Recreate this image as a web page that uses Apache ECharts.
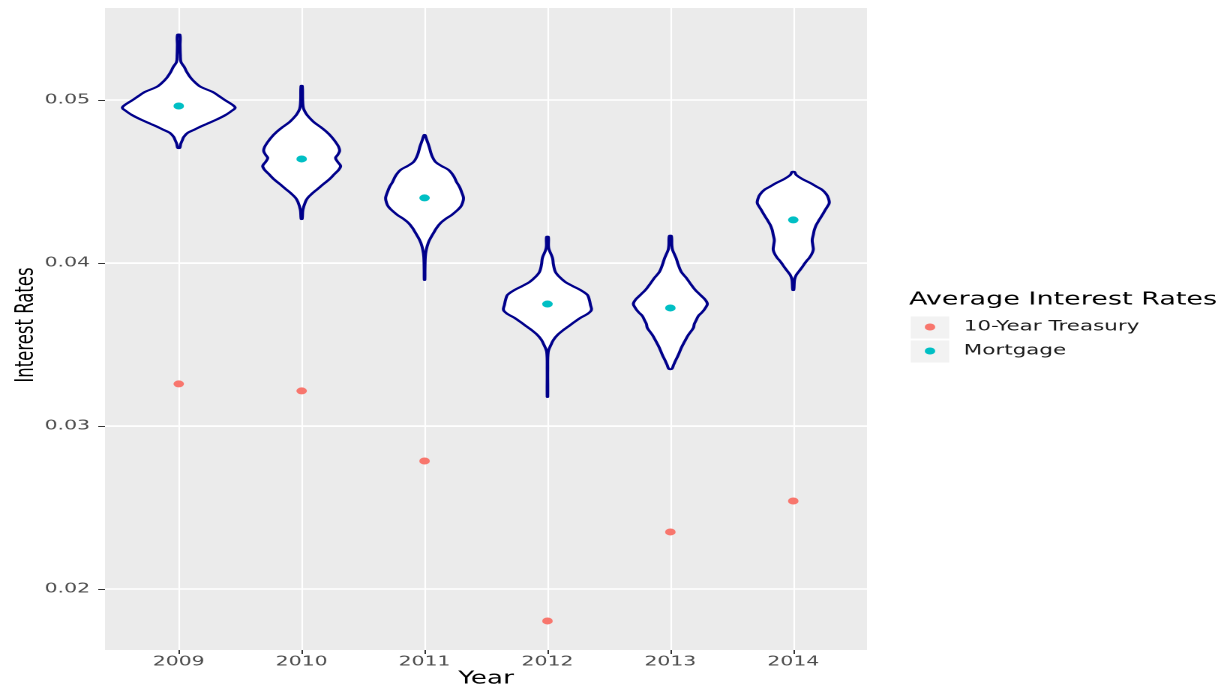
<!DOCTYPE html>
<html><head><meta charset="utf-8">
<script src="https://cdn.jsdelivr.net/npm/echarts@6.0.0/dist/echarts.min.js"></script>
<style>
html,body{margin:0;padding:0;background:#fff;overflow:hidden;width:1227px;height:690px}
#chart{width:818px;height:690px;transform:scaleX(1.5);transform-origin:0 0}
</style>
</head><body><div id="chart"></div><script>
// ---- data ----
const years = ['2009', '2010', '2011', '2012', '2013', '2014'];
const treasury = [0.03258, 0.03215, 0.02785, 0.01804, 0.02350, 0.02540];
const mortgage = [0.04963, 0.04638, 0.04399, 0.03748, 0.03724, 0.04264];
const yTicks = [0.02, 0.03, 0.04, 0.05];
const yMinor = [0.015, 0.025, 0.035, 0.045, 0.055];
// violin outlines: [rate, half-width in category units]
const violin2009 = [[0.05399,0.010],[0.05337,0.011],[0.05276,0.013],[0.05233,0.018],[0.05202,0.045],[0.05172,0.065],[0.05135,0.098],[0.05104,0.138],[0.05080,0.179],[0.05049,0.276],[0.05025,0.325],[0.05000,0.374],[0.04969,0.439],[0.04951,0.459],[0.04933,0.431],[0.04908,0.382],[0.04877,0.301],[0.04853,0.228],[0.04834,0.171],[0.04816,0.122],[0.04798,0.073],[0.04773,0.041],[0.04755,0.030],[0.04730,0.016],[0.04706,0.008]];
const violin2010 = [[0.05086,0.005],[0.05000,0.008],[0.04951,0.014],[0.04920,0.033],[0.04896,0.057],[0.04865,0.098],[0.04834,0.154],[0.04804,0.203],[0.04773,0.244],[0.04742,0.276],[0.04712,0.301],[0.04687,0.309],[0.04663,0.293],[0.04644,0.276],[0.04620,0.293],[0.04595,0.317],[0.04571,0.301],[0.04546,0.268],[0.04515,0.228],[0.04485,0.179],[0.04454,0.130],[0.04423,0.081],[0.04399,0.049],[0.04374,0.030],[0.04325,0.010],[0.04270,0.004]];
const violin2011 = [[0.04785,0.004],[0.04755,0.018],[0.04712,0.038],[0.04663,0.057],[0.04620,0.089],[0.04595,0.138],[0.04571,0.195],[0.04534,0.236],[0.04497,0.260],[0.04466,0.285],[0.04436,0.301],[0.04399,0.317],[0.04368,0.309],[0.04344,0.293],[0.04319,0.260],[0.04294,0.220],[0.04270,0.171],[0.04245,0.130],[0.04215,0.098],[0.04184,0.073],[0.04153,0.049],[0.04123,0.030],[0.04080,0.014],[0.04037,0.006],[0.03957,0.003],[0.03896,0.002]];
const violin2012 = [[0.04160,0.007],[0.04092,0.010],[0.04031,0.041],[0.03988,0.049],[0.03945,0.065],[0.03914,0.098],[0.03883,0.146],[0.03859,0.203],[0.03834,0.268],[0.03804,0.325],[0.03773,0.341],[0.03742,0.350],[0.03712,0.358],[0.03687,0.325],[0.03663,0.268],[0.03638,0.220],[0.03620,0.187],[0.03589,0.130],[0.03558,0.081],[0.03528,0.049],[0.03497,0.028],[0.03454,0.006],[0.03344,0.002],[0.03178,0.002]];
const violin2013 = [[0.04166,0.008],[0.04110,0.012],[0.04080,0.018],[0.04031,0.046],[0.03988,0.065],[0.03945,0.089],[0.03908,0.130],[0.03865,0.171],[0.03834,0.203],[0.03804,0.244],[0.03773,0.285],[0.03748,0.301],[0.03724,0.285],[0.03699,0.260],[0.03675,0.228],[0.03650,0.211],[0.03626,0.195],[0.03601,0.187],[0.03558,0.146],[0.03515,0.114],[0.03479,0.089],[0.03436,0.065],[0.03399,0.041],[0.03374,0.026],[0.03350,0.012]];
const violin2014 = [[0.04558,0.010],[0.04540,0.024],[0.04515,0.073],[0.04491,0.138],[0.04466,0.195],[0.04448,0.236],[0.04423,0.268],[0.04399,0.285],[0.04368,0.293],[0.04344,0.276],[0.04325,0.260],[0.04294,0.236],[0.04264,0.211],[0.04233,0.187],[0.04202,0.171],[0.04172,0.163],[0.04141,0.154],[0.04110,0.159],[0.04080,0.163],[0.04049,0.146],[0.04031,0.130],[0.04006,0.102],[0.03975,0.073],[0.03951,0.049],[0.03926,0.024],[0.03896,0.010],[0.03834,0.004]];
const violins = [violin2009, violin2010, violin2011, violin2012, violin2013, violin2014];

// ---- chart ----
const FONT = 'DejaVu Sans';
const chart = echarts.init(document.getElementById('chart'), null, {devicePixelRatio: 2});
const catX = years.map((y, i) => i + 1);

const gridLines = [];
yMinor.forEach(v => gridLines.push({yAxis: v, lineStyle: {width: 0.8}}));
yTicks.forEach(v => gridLines.push({yAxis: v, lineStyle: {width: 1.6}}));
catX.forEach(v => gridLines.push({xAxis: v, lineStyle: {width: 1.1}}));

chart.setOption({
  animation: false,
  backgroundColor: '#ffffff',
  textStyle: {fontFamily: FONT},
  grid: {left: 70, right: 240, top: 8, bottom: 40, show: true, backgroundColor: '#EBEBEB', borderWidth: 0,
    containLabel: false, outerBoundsMode: 'none'},
  title: {
    text: 'Average Interest Rates', left: 606, top: 291, padding: 0,
    textStyle: {fontFamily: FONT, fontSize: 18, fontWeight: 'normal', color: '#000'}
  },
  legend: {
    orient: 'vertical', left: 616.5, top: 319, padding: 0, itemGap: 8,
    itemWidth: 7, itemHeight: 7, icon: 'circle',
    data: ['10-Year Treasury', 'Mortgage'],
    textStyle: {fontFamily: FONT, fontSize: 14.3, color: '#1A1A1A', lineHeight: 16, padding: [0, 0, 0, 14]}
  },
  graphic: [
    {type: 'rect', z: 0, shape: {x: 606.7, y: 316, width: 26.6, height: 23}, style: {fill: '#F2F2F2', stroke: '#fff', lineWidth: 1}},
    {type: 'rect', z: 0, shape: {x: 606.7, y: 340, width: 26.6, height: 23}, style: {fill: '#F2F2F2', stroke: '#fff', lineWidth: 1}}
  ],
  xAxis: {
    type: 'value', min: 0.4, max: 6.6,
    name: 'Year', nameLocation: 'middle', nameGap: 20, nameMoveOverlap: false,
    nameTextStyle: {fontFamily: FONT, fontSize: 17.5, color: '#000'},
    axisLine: {show: false},
    axisTick: {show: true, length: 4, customValues: catX, lineStyle: {color: '#333333', width: 1}},
    axisLabel: {customValues: catX, margin: 5, fontFamily: FONT, fontSize: 13.6, color: '#4D4D4D',
      formatter: v => years[Math.round(v) - 1] || ''},
    splitLine: {show: false}
  },
  yAxis: {
    type: 'value', min: 0.016258, max: 0.05564,
    name: 'Interest Rates', nameLocation: 'middle', nameGap: 44, nameMoveOverlap: false,
    nameTextStyle: {fontFamily: FONT, fontSize: 16.5, color: '#000', padding: [0, 0, 0, 8]},
    axisLine: {show: false},
    axisTick: {show: true, length: 4.5, customValues: yTicks, lineStyle: {color: '#333333', width: 1}},
    axisLabel: {customValues: yTicks, margin: 10, fontFamily: FONT, fontSize: 13.6, color: '#4D4D4D',
      formatter: v => v.toFixed(2)},
    splitLine: {show: false}
  },
  series: [
    {
      type: 'line', data: [], z: 1, silent: true,
      markLine: {silent: true, z: 1, symbol: 'none', label: {show: false}, animation: false,
        lineStyle: {color: '#FFFFFF', type: 'solid'}, emphasis: {disabled: true}, data: gridLines}
    },
    {
      type: 'custom', z: 2, silent: true,
      data: catX.map(x => [x]),
      encode: {x: 0},
      renderItem: function (params, api) {
        const i = params.dataIndex;
        const prof = violins[i];
        const x = catX[i];
        const right = prof.map(p => api.coord([x + p[1], p[0]]));
        const left = prof.slice().reverse().map(p => api.coord([x - p[1], p[0]]));
        return {
          type: 'polygon',
          shape: {points: right.concat(left), smooth: 0.35},
          style: {fill: '#FFFFFF', stroke: '#00008B', lineWidth: 2, lineJoin: 'round'}
        };
      }
    },
    {
      name: '10-Year Treasury', type: 'scatter', z: 3, symbol: 'circle', symbolSize: 7,
      itemStyle: {color: '#F8766D', opacity: 1},
      data: treasury.map((v, i) => [catX[i], v])
    },
    {
      name: 'Mortgage', type: 'scatter', z: 3, symbol: 'circle', symbolSize: 7,
      itemStyle: {color: '#00BFC4', opacity: 1},
      data: mortgage.map((v, i) => [catX[i], v])
    }
  ]
});
</script></body></html>
